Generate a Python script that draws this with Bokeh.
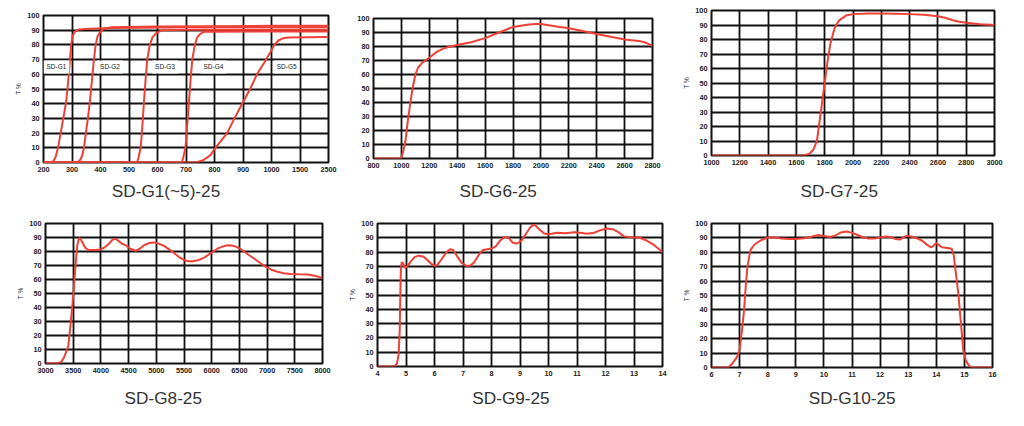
from bokeh.plotting import figure
from bokeh.layouts import column, row
from bokeh.models import Label, Title
from bokeh.embed import file_html
from bokeh.resources import INLINE
import numpy as np

# ---------------- data ----------------
# Panel 1 (non-linear wavelength axis)
g1_ticks = [200, 300, 400, 500, 600, 700, 800, 900, 1000, 1500, 2500]
g1_x = [200, 225, 235, 243, 251, 262, 272, 280, 287, 293, 297, 302, 310, 325, 360, 450, 700, 1000, 2500]
g1_y = [0, 0, 1, 4, 10, 22, 33, 42, 56, 70, 80, 86, 89, 90.5, 91, 91.5, 92, 92, 92]
g2_x = [200, 320, 330, 336, 342, 350, 357, 363, 370, 377, 383, 390, 400, 412, 440, 600, 1000, 2500]
g2_y = [0, 0, 2, 5, 10, 22, 32, 42, 56, 70, 80, 86, 89, 91, 92, 92.5, 93, 93]
g3_x = [200, 528, 533, 541, 547, 552, 558, 564, 572, 582, 595, 617, 700, 1000, 2500]
g3_y = [0, 0, 3, 10, 25, 40, 56, 70, 79, 85, 88, 90, 90.3, 90.3, 90.3]
g4_x = [200, 685, 690, 698, 704, 710, 716, 722, 730, 739, 750, 765, 1000, 2500]
g4_y = [0, 0, 3, 10, 25, 40, 56, 70, 79, 85, 87.5, 89, 89.1, 89.1]
g5_x = [200, 735, 760, 786, 803, 820, 844, 870, 897, 925, 949, 975, 996, 1050, 1120, 1200, 1300, 2500]
g5_y = [0, 0, 1.5, 5, 10, 14, 20, 30, 40, 50, 60, 68, 75, 80, 83, 84.5, 85, 85.3]
g_names = ["SD-G1", "SD-G2", "SD-G3", "SD-G4", "SD-G5"]
g_label_x = [200, 388, 581, 751, 1040]
g_label_y = [65, 65, 65, 65, 65]

g6_x = [800, 990, 1000, 1010, 1027, 1045, 1063, 1080, 1100, 1120, 1150, 1200, 1250, 1300, 1350, 1400,
        1500, 1600, 1700, 1800, 1900, 1960, 2000, 2100, 2200, 2300, 2400, 2500, 2600, 2700, 2750, 2800]
g6_y = [0, 0, 1, 4, 11, 26, 39, 50, 60, 65, 68.5, 72, 76, 78.5, 80, 81,
        83, 86, 90, 94, 95.5, 96, 96, 94.5, 93, 91, 89, 87, 85, 84, 82.8, 80.5]

g7_x = [1000, 1650, 1690, 1720, 1745, 1770, 1800, 1820, 1840, 1870, 1900, 1950, 2000, 2100, 2200,
        2300, 2400, 2500, 2600, 2650, 2700, 2750, 2800, 2900, 3000]
g7_y = [0, 0, 1, 4, 10, 28, 50, 65, 77, 88, 93, 96.5, 97.5, 98, 98,
        97.8, 97.5, 97, 96, 95, 93.5, 92.3, 91.5, 90.5, 90]

g8_x = [3000, 3200, 3280, 3330, 3370, 3410, 3445, 3482, 3515, 3542, 3572, 3600, 3620, 3660, 3720, 3783,
        3900, 3994, 4070, 4145, 4210, 4265, 4320, 4380, 4446, 4530, 4627, 4700, 4777, 4870, 4958, 5050,
        5139, 5230, 5319, 5410, 5500, 5580, 5650, 5730, 5801, 5880, 5952, 6030, 6102, 6190, 6283, 6360,
        6434, 6510, 6584, 6670, 6765, 6870, 6976, 7080, 7187, 7300, 7428, 7580, 7729, 7880, 8000]
g8_y = [0, 0, 1, 4, 8, 12, 25, 40, 56, 70, 84, 89, 89.5, 87, 82.5, 81,
        81, 81.5, 83, 85.5, 88.5, 89, 87.5, 85.5, 84.5, 82, 80.5, 82, 84.5, 86, 86.5, 85.5,
        84, 81.5, 79, 76, 74, 73, 73, 73.5, 74.5, 76, 78, 80, 82, 83.5, 84.5, 84.3,
        83.5, 82, 80, 77.5, 75, 72, 69, 67, 65.5, 64.5, 64, 63.7, 63.5, 62.5, 61]

g9_x = [4, 4.6, 4.68, 4.74, 4.78, 4.8, 4.82, 4.85, 4.9, 4.97, 5.05, 5.15, 5.3, 5.45, 5.6, 5.75, 5.9, 6.0,
        6.1, 6.25, 6.4, 6.55, 6.65, 6.8, 6.95, 7.1, 7.25, 7.4, 7.55, 7.7, 7.85, 8.0, 8.15, 8.3, 8.45,
        8.6, 8.75, 8.9, 9.05, 9.2, 9.35, 9.45, 9.55, 9.7, 9.85, 10.0, 10.3, 10.6, 10.9, 11.1, 11.35,
        11.6, 11.85, 12.05, 12.25, 12.45, 12.65, 12.9, 13.2, 13.4, 13.7, 14.0]
g9_y = [0, 0, 2, 8, 25, 50, 68, 73, 72, 69, 70, 73, 76.5, 77.5, 77, 74.5, 71.5, 70.5,
        71, 75, 79.5, 82, 81.5, 77, 72.5, 70.5, 70.5, 73, 78, 81.5, 82, 82.5, 84, 88, 90.5,
        90, 86.5, 86, 88, 92.5, 97, 99, 98.5, 95.5, 93, 92.5, 93.5, 93.2, 93.8, 93.6, 92.8,
        93.5, 95.5, 96.5, 96, 94, 91, 90.3, 90, 88.5, 85, 80]

g10_x = [6, 6.6, 6.75, 6.9, 7.0, 7.08, 7.16, 7.22, 7.28, 7.34, 7.4, 7.54, 7.77, 8.0, 8.25, 8.5, 8.8,
         9.0, 9.3, 9.55, 9.8, 10.0, 10.2, 10.4, 10.6, 10.8, 11.0, 11.2, 11.4, 11.6, 11.8, 12.0, 12.2,
         12.4, 12.55, 12.7, 12.85, 12.95, 13.1, 13.3, 13.5, 13.65, 13.8, 13.9, 14.0, 14.1, 14.2, 14.4,
         14.55, 14.62, 14.7, 14.79, 14.88, 14.96, 15.05, 15.15, 15.25, 16]
g10_y = [0, 0, 3, 7, 12, 25, 40, 57, 70, 77, 82, 85.6, 88.4, 90.3, 90.3, 89.5, 89.3,
         89.3, 89.8, 90.8, 92, 91.3, 90.6, 91.5, 93.8, 94.5, 93.5, 92, 90.3, 89.5, 89.5, 90.3, 91,
         90.5, 89.2, 88.8, 90.5, 91.5, 91, 89.8, 88, 85.5, 83.5, 84.5, 86.5, 85, 83.5, 83,
         82.5, 78, 65, 50, 30, 12, 5, 1.5, 0, 0]

y_ticks = list(range(0, 101, 10))

RED = "#EE4036"
FONT = "Liberation Sans"


def make(width, height, left, right, top, bottom, xr, xticks, title, tdx, tstand, ylabel=True,
         overrides=None):
    p = figure(width=width, height=height, x_range=xr, y_range=(0, 100),
               output_backend="svg", toolbar_location=None,
               min_border_left=left, min_border_right=right,
               min_border_top=top, min_border_bottom=bottom)
    p.title.visible = False
    p.background_fill_color = "white"
    p.border_fill_color = "white"
    p.outline_line_color = "#111111"
    p.outline_line_width = 2
    p.xaxis.ticker = xticks
    p.yaxis.ticker = y_ticks
    if overrides:
        p.xaxis.major_label_overrides = overrides
    for ax in (p.xaxis, p.yaxis):
        ax.axis_line_color = None
        ax.major_tick_line_color = None
        ax.minor_tick_line_color = None
        ax.major_tick_out = 0
        ax.major_tick_in = 0
        ax.minor_tick_out = 0
        ax.major_label_text_font = FONT
        ax.major_label_text_font_size = "7.3px"
        ax.major_label_text_font_style = "bold"
        ax.major_label_text_color = "#222222"
        ax.major_label_standoff = 4
    for g in (p.xgrid, p.ygrid):
        g.grid_line_color = "#111111"
        g.grid_line_width = 1.8
        g.grid_line_alpha = 1.0
    if ylabel:
        p.yaxis.axis_label = "T %"
        p.yaxis.axis_label_text_font = FONT
        p.yaxis.axis_label_text_font_size = "6.5px"
        p.yaxis.axis_label_text_font_style = "normal"
        p.yaxis.axis_label_text_color = "#222222"
        p.yaxis.axis_label_standoff = 2
    p.add_layout(Title(text=title, align="left", offset=tdx, standoff=tstand,
                       vertical_align="bottom", text_font=FONT, text_font_size="17.2px",
                       text_font_style="normal", text_color="#333333"), "below")
    return p


# Panel 1 uses equally spaced ticks for a non-linear wavelength scale
pos1 = list(range(len(g1_ticks)))
ov1 = {i: str(v) for i, v in zip(pos1, g1_ticks)}
p1 = make(345, 212, 43, 17, 15, 50, (0, 10), pos1, "SD-G1(~5)-25", 68.3, 9, True, ov1)
for gx, gy in [(g1_x, g1_y), (g2_x, g2_y), (g3_x, g3_y), (g4_x, g4_y), (g5_x, g5_y)]:
    p1.line(np.interp(gx, g1_ticks, pos1), gy, line_color=RED, line_width=2)
for name, lx, ly in zip(g_names, g_label_x, g_label_y):
    p1.add_layout(Label(x=float(np.interp(lx, g1_ticks, pos1)), y=ly, text=name,
                        text_font=FONT, text_font_size="6.5px", text_color="#222222",
                        text_baseline="middle", text_align="left",
                        background_fill_color="white", padding=3))

p2 = make(335, 212, 28, 28, 18, 54, (800, 2800), list(range(800, 2801, 200)), "SD-G6-25", 86, 17, False)
p2.line(g6_x, g6_y, line_color=RED, line_width=2)

p3 = make(340, 212, 26, 26, 10, 57, (1000, 3000), list(range(1000, 3001, 200)), "SD-G7-25", 89.1, 23, True)
p3.line(g7_x, g7_y, line_color=RED, line_width=2)

p4 = make(345, 213, 45, 23, 11, 62, (3000, 8000), list(range(3000, 8001, 500)), "SD-G8-25", 79.1, 21, True)
p4.line(g8_x, g8_y, line_color=RED, line_width=2)

p5 = make(335, 213, 32, 18, 11, 59, (4, 14), list(range(4, 15)), "SD-G9-25", 94.8, 15, True)
p5.line(g9_x, g9_y, line_color=RED, line_width=2)

p6 = make(340, 213, 26, 28, 11, 58, (6, 16), list(range(6, 17)), "SD-G10-25", 97.2, 13, True)
p6.line(g10_x, g10_y, line_color=RED, line_width=2)

# each plot wrapped on its own so that frames are not aligned across a row
layout = column(row(column(p1), column(p2), column(p3)),
                row(column(p4), column(p5), column(p6)))
open("out.html", "w").write(file_html(layout, INLINE))
